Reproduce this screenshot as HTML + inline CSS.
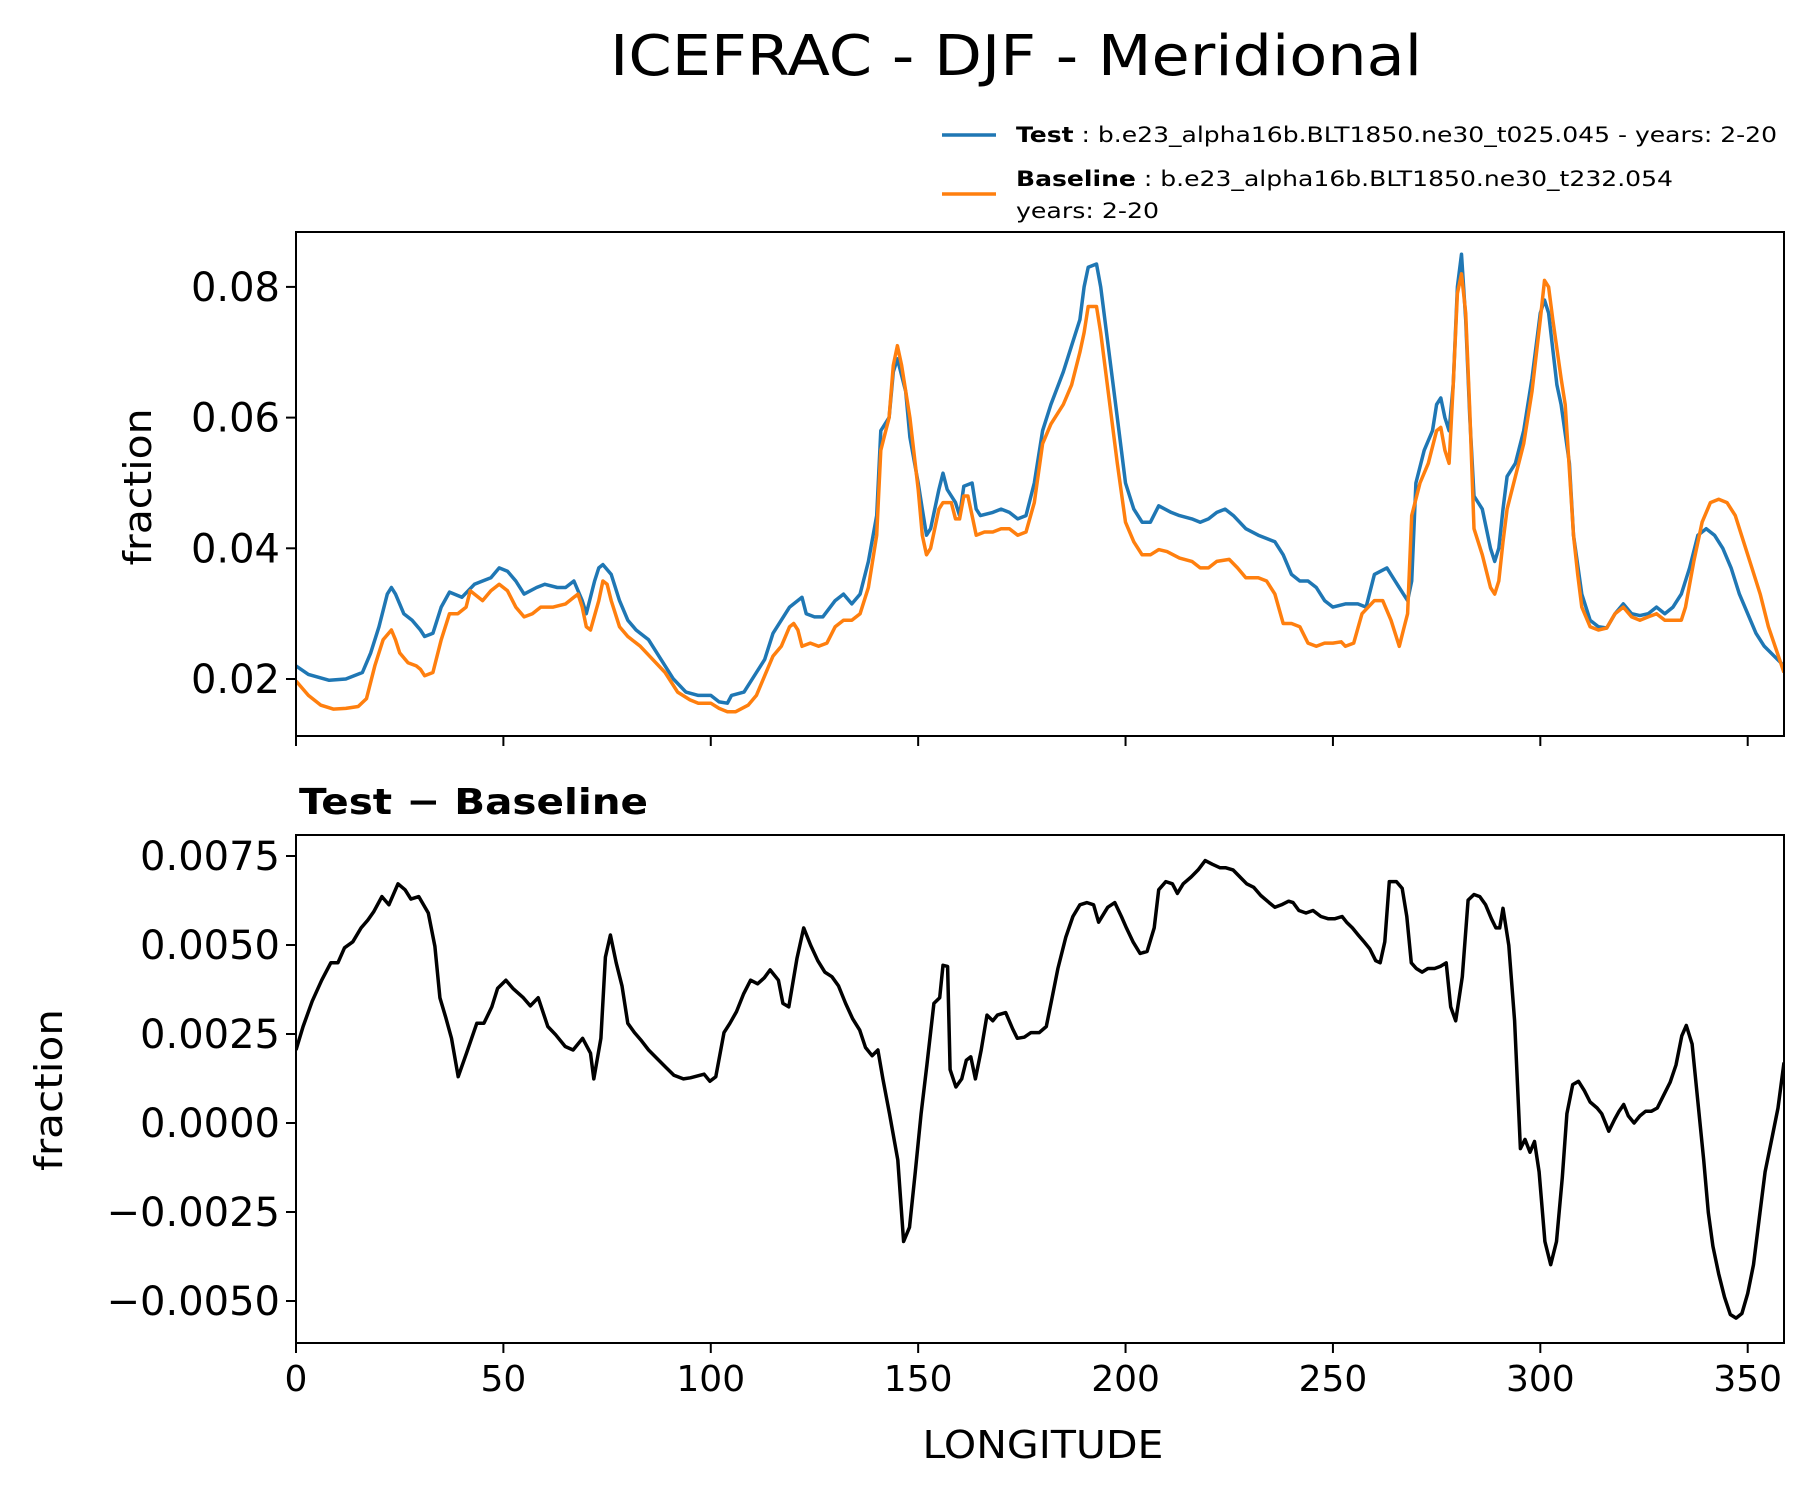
<!DOCTYPE html>
<html><head><meta charset="utf-8"><style>
html,body{margin:0;padding:0;background:#fff;}
svg{display:block;font-family:"DejaVu Sans","Liberation Sans",sans-serif;}
</style></head><body>
<svg id="chart" width="1817" height="1496" viewBox="0 0 1817 1496" xmlns="http://www.w3.org/2000/svg">
<rect width="1817" height="1496" fill="#fff"/>
<text x="1016" y="75" font-size="56" text-anchor="middle" textLength="812" lengthAdjust="spacingAndGlyphs">ICEFRAC - DJF - Meridional</text>
<g>
<line x1="942" y1="135" x2="996" y2="135" stroke="#1f77b4" stroke-width="3.5"/>
<text x="1016" y="142" font-size="21" textLength="761" lengthAdjust="spacingAndGlyphs"><tspan font-weight="bold">Test</tspan> : b.e23_alpha16b.BLT1850.ne30_t025.045 - years: 2-20</text>
<line x1="942" y1="194" x2="996" y2="194" stroke="#ff7f0e" stroke-width="3.5"/>
<text x="1016" y="186" font-size="21" textLength="657" lengthAdjust="spacingAndGlyphs"><tspan font-weight="bold">Baseline</tspan> : b.e23_alpha16b.BLT1850.ne30_t232.054</text>
<text x="1016" y="218" font-size="21" textLength="143" lengthAdjust="spacingAndGlyphs">years: 2-20</text>
</g>
<text x="299" y="814" font-size="36" font-weight="bold" textLength="349" lengthAdjust="spacingAndGlyphs">Test − Baseline</text>
<text transform="translate(151,487) rotate(-90)" font-size="38" text-anchor="middle" textLength="157" lengthAdjust="spacingAndGlyphs">fraction</text>
<text transform="translate(62,1090) rotate(-90)" font-size="38" text-anchor="middle" textLength="162" lengthAdjust="spacingAndGlyphs">fraction</text>
<text x="1043" y="1458" font-size="38" text-anchor="middle" textLength="241" lengthAdjust="spacingAndGlyphs">LONGITUDE</text>
<g id="top"></g>
<g id="bot"></g>
</svg>
<script>
const testLon=[0,3,8,12,16,18,20,22,23,24,26,28,30,31,33,35,37,40,43,45,47,49,51,53,55,58,60,63,65,67,69,70,72,73,74,76,78,80,82,85,88,91,94,97,100,102,104,105,108,111,113,115,117,119,122,123,125,127,130,132,134,136,138,140,141,143,144,145,147,148,150,151,152,153,155,156,157,159,160,161,163,164,165,168,170,172,174,176,178,180,182,185,187,189,190,191,193,194,196,198,200,202,204,206,208,211,213,216,218,220,222,224,226,229,232,234,236,238,240,242,244,246,248,250,253,256,258,260,263,265,267,268,269,270,272,274,275,276,277,278,279,280,281,282,283,284,286,288,289,290,291,292,294,296,298,300,301,302,304,305,307,308,310,312,314,316,318,320,322,324,326,328,330,332,334,336,338,340,342,344,346,348,350,352,354,358.75];
const testVal=[0.0220,0.0207,0.0198,0.0200,0.0210,0.024,0.028,0.033,0.034,0.033,0.030,0.029,0.0275,0.0265,0.027,0.031,0.0333,0.0325,0.0345,0.035,0.0355,0.037,0.0365,0.035,0.033,0.034,0.0345,0.034,0.034,0.035,0.032,0.030,0.035,0.037,0.0375,0.036,0.032,0.029,0.0275,0.026,0.023,0.020,0.018,0.0175,0.0175,0.0165,0.0163,0.0175,0.018,0.021,0.023,0.027,0.029,0.031,0.0325,0.030,0.0295,0.0295,0.032,0.033,0.0315,0.033,0.038,0.045,0.058,0.060,0.067,0.069,0.064,0.057,0.050,0.046,0.042,0.043,0.049,0.0515,0.049,0.047,0.045,0.0495,0.050,0.046,0.045,0.0455,0.046,0.0455,0.0445,0.045,0.050,0.058,0.062,0.067,0.071,0.075,0.080,0.083,0.0835,0.080,0.070,0.060,0.050,0.046,0.044,0.044,0.0465,0.0455,0.045,0.0445,0.044,0.0445,0.0455,0.046,0.045,0.043,0.042,0.0415,0.041,0.039,0.036,0.035,0.035,0.034,0.032,0.031,0.0315,0.0315,0.031,0.036,0.037,0.035,0.033,0.032,0.035,0.050,0.055,0.058,0.062,0.063,0.060,0.058,0.065,0.080,0.085,0.075,0.060,0.048,0.046,0.040,0.038,0.040,0.046,0.051,0.053,0.058,0.066,0.076,0.078,0.076,0.065,0.062,0.053,0.042,0.033,0.029,0.028,0.0278,0.030,0.0315,0.030,0.0297,0.030,0.031,0.030,0.031,0.033,0.037,0.042,0.043,0.042,0.040,0.037,0.033,0.030,0.027,0.025,0.022];
const baseLon=[0,3,6,9,12,15,17,19,21,23,24,25,27,29,30,31,33,35,37,39,41,42,45,47,49,51,53,55,57,59,62,65,67,68,69,70,71,73,74,75,76,78,80,83,86,89,92,95,97,100,102,104,106,109,111,113,115,117,119,120,121,122,124,126,128,130,132,134,136,138,140,141,143,144,145,146,148,150,151,152,153,155,156,158,159,160,161,162,163,164,166,168,170,172,174,176,178,180,182,185,187,189,190,191,193,194,196,198,200,202,204,206,208,210,213,216,218,220,222,225,227,229,232,234,236,238,240,242,244,246,248,250,252,253,255,257,260,262,264,266,267,268,269,271,273,275,276,277,278,279,280,281,282,283,284,286,287,288,289,290,291,292,294,296,298,300,301,302,303,305,306,307,308,309,310,312,314,316,318,320,322,324,326,328,330,332,334,335,337,339,341,343,345,347,349,351,353,355,358.75];
const baseVal=[0.0197,0.0175,0.016,0.0154,0.0155,0.0158,0.017,0.022,0.026,0.0275,0.026,0.024,0.0225,0.022,0.0215,0.0205,0.021,0.026,0.030,0.030,0.031,0.0335,0.032,0.0335,0.0345,0.0335,0.031,0.0295,0.030,0.031,0.031,0.0315,0.0325,0.033,0.031,0.028,0.0275,0.032,0.035,0.0345,0.032,0.028,0.0265,0.025,0.023,0.021,0.018,0.0168,0.0163,0.0163,0.0155,0.015,0.015,0.016,0.0175,0.0205,0.0235,0.025,0.028,0.0285,0.0275,0.025,0.0255,0.025,0.0255,0.028,0.029,0.029,0.030,0.034,0.042,0.055,0.060,0.068,0.071,0.068,0.060,0.049,0.042,0.039,0.040,0.046,0.047,0.047,0.0445,0.0445,0.048,0.048,0.045,0.042,0.0425,0.0425,0.043,0.043,0.042,0.0425,0.047,0.056,0.059,0.062,0.065,0.070,0.073,0.077,0.077,0.073,0.063,0.053,0.044,0.041,0.039,0.039,0.0398,0.0395,0.0385,0.038,0.037,0.037,0.038,0.0383,0.037,0.0355,0.0355,0.035,0.033,0.0285,0.0285,0.028,0.0255,0.025,0.0255,0.0255,0.0257,0.025,0.0255,0.030,0.032,0.032,0.029,0.025,0.0275,0.030,0.045,0.050,0.053,0.058,0.0585,0.055,0.053,0.065,0.079,0.082,0.076,0.061,0.043,0.039,0.0365,0.034,0.033,0.035,0.041,0.046,0.051,0.056,0.064,0.075,0.081,0.080,0.075,0.066,0.062,0.052,0.042,0.036,0.031,0.028,0.0275,0.0278,0.030,0.031,0.0295,0.029,0.0295,0.030,0.029,0.029,0.029,0.031,0.038,0.044,0.047,0.0475,0.047,0.045,0.041,0.037,0.033,0.028,0.021];
const diffLon=[0,1.7,3.9,6.2,8.4,10.1,11.7,13.7,15.7,17.3,18.7,20.7,22.4,24.6,26.3,27.7,29.6,31.9,33.5,34.7,36.1,37.5,39.1,41.1,43.6,45.3,47.2,48.6,50.6,52.3,54.8,56.5,58.4,60.7,62.6,64.9,66.8,69.1,71.0,71.8,73.5,74.6,75.8,77.2,78.6,80.0,81.6,83.3,85.0,86.9,89.2,91.1,93.4,95.1,98.4,99.8,101.2,103.2,104.6,106.2,107.9,109.6,111.3,112.9,114.3,116.3,117.4,118.8,120.8,122.4,124.1,125.8,127.5,129.2,130.8,132.5,134.2,135.9,137.3,138.9,140.3,141.5,143.1,145.1,146.5,147.9,149.3,150.7,152.1,153.8,155.2,156.0,157.1,157.7,159.1,160.5,161.6,162.7,163.8,165.2,166.6,168.0,169.1,171.1,172.8,173.9,175.6,177.2,179.2,180.9,182.3,183.7,185.6,187.3,189.0,190.7,192.3,193.5,195.7,197.4,199.0,200.2,201.8,203.5,205.2,206.9,208.0,209.7,211.3,212.5,213.9,215.8,217.5,219.2,220.9,222.8,224.2,225.9,227.6,229.2,230.9,232.6,234.6,236.0,237.6,239.3,240.4,241.8,243.5,245.2,247.1,248.8,250.5,252.2,253.3,254.7,256.1,257.5,258.9,260.3,261.4,262.5,263.6,265.3,266.7,267.8,268.9,270.1,271.5,272.9,274.5,275.9,277.3,278.4,279.6,281.2,282.6,284.0,285.4,286.8,288.2,289.3,290.2,291.0,292.4,293.8,295.2,296.3,297.5,298.6,299.7,301.1,302.5,303.9,305.3,306.4,307.8,309.2,310.6,312.0,313.7,314.8,316.5,317.9,319.0,320.1,321.2,322.6,324.0,325.4,326.8,328.2,329.6,331.3,332.7,334.1,335.2,336.6,338.0,339.4,340.5,341.6,343.0,344.4,345.8,347.2,348.6,350.0,351.4,352.8,354.2,355.9,357.3,358.75];
const diffVal=[2.05,2.71,3.42,4.01,4.50,4.50,4.92,5.09,5.48,5.70,5.93,6.36,6.13,6.72,6.55,6.29,6.36,5.90,4.96,3.52,2.97,2.38,1.30,1.96,2.80,2.80,3.26,3.78,4.01,3.78,3.52,3.29,3.52,2.71,2.48,2.15,2.05,2.38,1.96,1.24,2.38,4.66,5.28,4.50,3.85,2.80,2.54,2.31,2.05,1.83,1.56,1.34,1.24,1.27,1.37,1.17,1.30,2.54,2.80,3.13,3.62,4.01,3.91,4.08,4.30,4.01,3.36,3.26,4.63,5.48,4.99,4.56,4.24,4.11,3.85,3.36,2.93,2.61,2.12,1.89,2.05,1.24,0.26,-1.04,-3.33,-2.93,-1.37,0.26,1.63,3.36,3.52,4.43,4.40,1.50,1.01,1.24,1.76,1.86,1.24,2.05,3.03,2.87,3.03,3.10,2.64,2.38,2.41,2.54,2.54,2.71,3.52,4.34,5.22,5.80,6.13,6.19,6.13,5.64,6.06,6.19,5.80,5.48,5.09,4.76,4.82,5.48,6.55,6.78,6.72,6.45,6.72,6.91,7.11,7.37,7.27,7.17,7.17,7.11,6.91,6.72,6.62,6.39,6.19,6.06,6.13,6.23,6.19,5.97,5.90,5.97,5.80,5.74,5.74,5.80,5.64,5.48,5.28,5.09,4.89,4.56,4.50,5.09,6.78,6.78,6.59,5.80,4.50,4.34,4.24,4.34,4.34,4.40,4.50,3.26,2.87,4.11,6.26,6.42,6.36,6.13,5.74,5.48,5.48,6.03,4.99,2.87,-0.72,-0.46,-0.82,-0.52,-1.37,-3.33,-3.98,-3.33,-1.53,0.26,1.08,1.17,0.91,0.59,0.42,0.26,-0.23,0.10,0.33,0.52,0.20,0.00,0.20,0.33,0.33,0.42,0.75,1.14,1.63,2.45,2.74,2.22,0.59,-1.04,-2.51,-3.46,-4.24,-4.89,-5.38,-5.48,-5.35,-4.79,-3.98,-2.67,-1.37,-0.39,0.42,1.70];
const xTicks=[0,50,100,150,200,250,300,350];
const topTicks=[0.02,0.04,0.06,0.08];
const topTickLabels=["0.02","0.04","0.06","0.08"];
const botTicks=[-0.005,-0.0025,0,0.0025,0.005,0.0075];
const botTickLabels=["\u22120.0050","\u22120.0025","0.0000","0.0025","0.0050","0.0075"];

const NS="http://www.w3.org/2000/svg";
const L=296,R=1784,X0=0,X1=358.75;
const T={top:232,bot:736,y0:0.01128,y1:0.0884};
const B={top:835,bot:1343,y0:-0.00618,y1:0.00809};
const FS=36, YFS=40;
function sx(v){return L+(v-X0)/(X1-X0)*(R-L);}
function sy(p,v){return p.bot-(v-p.y0)/(p.y1-p.y0)*(p.bot-p.top);}
function el(tag,attrs,parent){const e=document.createElementNS(NS,tag);for(const k in attrs)e.setAttribute(k,attrs[k]);parent.appendChild(e);return e;}
function drawLine(g,p,xs,ys,color,name,scale){
  let d="";for(let i=0;i<xs.length;i++){d+=(i?"L":"M")+sx(xs[i]).toFixed(1)+","+sy(p,ys[i]*scale).toFixed(1);}
  const path=el("path",{d:d,fill:"none",stroke:color,"stroke-width":3.5,"stroke-linejoin":"round","clip-path":"url(#"+g.id+"-clip)"},g);
  
  
}
function axes(g,p,ticks,labels,showXLabels){
  const defs=el("defs",{},g);const cp=el("clipPath",{id:g.id+"-clip"},defs);el("rect",{x:L,y:p.top,width:R-L,height:p.bot-p.top},cp);
  xTicks.forEach(t=>{
    const tk=el("line",{x1:sx(t),x2:sx(t),y1:p.bot,y2:p.bot+10,stroke:"#000","stroke-width":2},g);
    
    
    if(showXLabels){const tx=el("text",{x:sx(t),y:p.bot+48,"font-size":FS,"text-anchor":"middle"},g);tx.textContent=String(t);
      
      }
  });
  ticks.forEach((t,i)=>{
    const y=sy(p,t);
    const tk=el("line",{x1:L-10,x2:L,y1:y,y2:y,stroke:"#000","stroke-width":2},g);
    
    
    const tx=el("text",{x:L-16,y:y+14,"font-size":YFS,"text-anchor":"end"},g);tx.textContent=labels[i];
    
    
  });
}
function frame(g,p){const r=el("rect",{x:L,y:p.top,width:R-L,height:p.bot-p.top,fill:"none",stroke:"#000","stroke-width":2},g);
  
  }
const gt=document.getElementById("top"),gb=document.getElementById("bot");
axes(gt,T,topTicks,topTickLabels,false);
drawLine(gt,T,testLon,testVal,"#1f77b4","test-line",1);
drawLine(gt,T,baseLon,baseVal,"#ff7f0e","baseline-line",1);
frame(gt,T);
axes(gb,B,botTicks,botTickLabels,true);
drawLine(gb,B,diffLon,diffVal,"#000","diff-line",0.001);
frame(gb,B);
</script>
</body></html>
